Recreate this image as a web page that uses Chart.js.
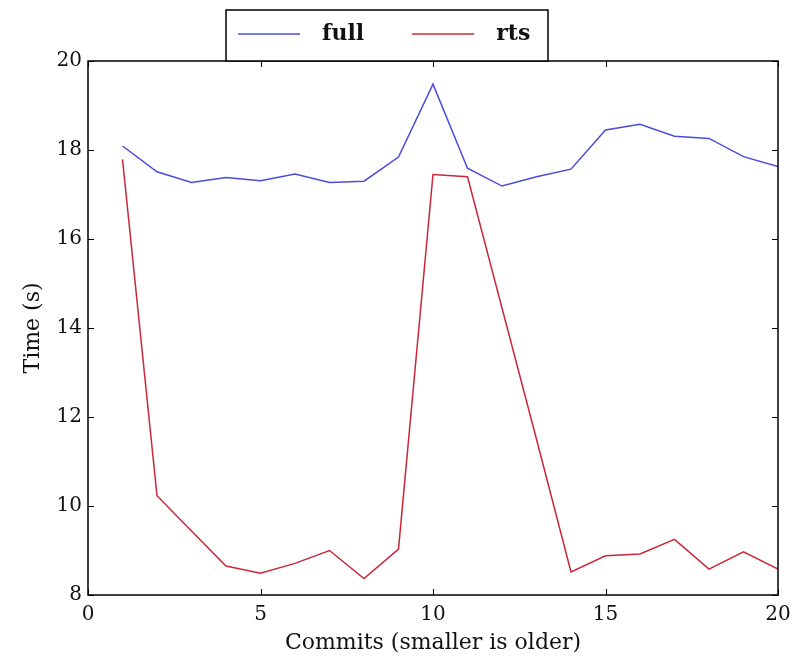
<!DOCTYPE html>
<html>
<head>
<meta charset="utf-8">
<script src="https://cdn.jsdelivr.net/npm/chart.js@4"></script>
<style>
  html, body { margin: 0; padding: 0; background: #fff; }
  #wrap { width: 795px; height: 656px; }
</style>
</head>
<body>
<div id="wrap"><canvas id="timeChart" width="795" height="656"></canvas></div>
<script>
// datos
const commits = [1, 2, 3, 4, 5, 6, 7, 8, 9, 10, 11, 12, 13, 14, 15, 16, 17, 18, 19, 20];
const fullTimes = [18.09, 17.51, 17.27, 17.38, 17.31, 17.46, 17.27, 17.30, 17.84, 19.48,
                   17.59, 17.19, 17.40, 17.57, 18.45, 18.58, 18.31, 18.26, 17.85, 17.63];
const rtsTimes = [17.79, 10.23, 9.44, 8.65, 8.49, 8.71, 9.00, 8.37, 9.03, 17.45,
                  17.40, 14.45, 11.50, 8.52, 8.88, 8.92, 9.25, 8.58, 8.97, 8.58];
const xTicks = [0, 5, 10, 15, 20];
const yTicks = [8, 10, 12, 14, 16, 18, 20];

const serif = '"DejaVu Serif", "Liberation Serif", serif';

function toPoints(ys) {
  return commits.map((c, i) => ({ x: c, y: ys[i] }));
}

// marco, ticks hacia dentro y leyenda con caja (estilo matplotlib)
const framePlugin = {
  id: 'frame',
  afterDatasetsDraw(chart) {
    const { ctx, chartArea: a, scales } = chart;
    ctx.save();
    ctx.strokeStyle = '#000';
    ctx.lineWidth = 1;
    const tl = 6;
    ctx.beginPath();
    xTicks.forEach(v => {
      const px = Math.round(scales.x.getPixelForValue(v)) + 0.5;
      ctx.moveTo(px, a.bottom); ctx.lineTo(px, a.bottom - tl);
      ctx.moveTo(px, a.top); ctx.lineTo(px, a.top + tl);
    });
    yTicks.forEach(v => {
      const py = Math.round(scales.y.getPixelForValue(v)) + 0.5;
      ctx.moveTo(a.left, py); ctx.lineTo(a.left + tl, py);
      ctx.moveTo(a.right, py); ctx.lineTo(a.right - tl, py);
    });
    ctx.stroke();
    ctx.lineWidth = 1.5;
    ctx.strokeRect(a.left, a.top, a.right - a.left, a.bottom - a.top);

    // leyenda
    const w = a.right - a.left;
    const bx = a.left + 0.2 * w, bw = 322, bh = 51, by = a.top - bh;
    ctx.fillStyle = '#fff';
    ctx.fillRect(bx, by, bw, bh);
    ctx.lineWidth = 1.5;
    ctx.strokeRect(bx, by, bw, bh);
    const cy = by + 24;
    ctx.font = 'bold 22px ' + serif;
    ctx.textBaseline = 'middle';
    ctx.textAlign = 'left';
    let x = bx + 12;
    chart.data.datasets.forEach(ds => {
      ctx.strokeStyle = ds.borderColor;
      ctx.lineWidth = 1.5;
      ctx.beginPath();
      ctx.moveTo(x, cy); ctx.lineTo(x + 62, cy);
      ctx.stroke();
      ctx.fillStyle = '#111';
      ctx.fillText(ds.label, x + 84, cy);
      x += 84 + ctx.measureText(ds.label).width + 48;
    });
    ctx.restore();
  }
};

const ctx = document.getElementById('timeChart').getContext('2d');
new Chart(ctx, {
  type: 'line',
  data: {
    datasets: [{
      label: 'full',
      data: toPoints(fullTimes),
      borderColor: '#4b4bdc',
      borderWidth: 1.5,
      pointRadius: 0,
      tension: 0,
      fill: false
    }, {
      label: 'rts',
      data: toPoints(rtsTimes),
      borderColor: '#c8283a',
      borderWidth: 1.5,
      pointRadius: 0,
      tension: 0,
      fill: false
    }]
  },
  options: {
    responsive: false,
    animation: false,
    layout: { padding: { left: 0, right: 17, top: 61, bottom: 0 } },
    plugins: {
      legend: { display: false },
      tooltip: { enabled: false }
    },
    scales: {
      x: {
        type: 'linear',
        min: 0,
        max: 20,
        afterBuildTicks(scale) { scale.ticks = xTicks.map(v => ({ value: v })); },
        afterFit(scale) {
          scale.height = 61;
          scale.paddingLeft = 0;
          scale.paddingRight = 0;
        },
        grid: { display: false, drawTicks: false },
        border: { display: false },
        ticks: { color: '#111', font: { family: serif, size: 20 }, padding: 8, maxRotation: 0 },
        title: {
          display: true,
          text: 'Commits (smaller is older)',
          color: '#111',
          font: { family: serif, size: 22 },
          padding: { top: 0, bottom: 0 }
        }
      },
      y: {
        min: 8,
        max: 20,
        afterBuildTicks(scale) { scale.ticks = yTicks.map(v => ({ value: v })); },
        afterFit(scale) {
          scale.width = 88;
          scale.paddingTop = 0;
          scale.paddingBottom = 0;
        },
        grid: { display: false, drawTicks: false },
        border: { display: false },
        ticks: { color: '#111', font: { family: serif, size: 20 }, padding: 6 },
        title: {
          display: true,
          text: 'Time (s)',
          color: '#111',
          font: { family: serif, size: 22 },
          padding: { top: 20, bottom: 0 }
        }
      }
    }
  },
  plugins: [framePlugin]
});
</script>
</body>
</html>
